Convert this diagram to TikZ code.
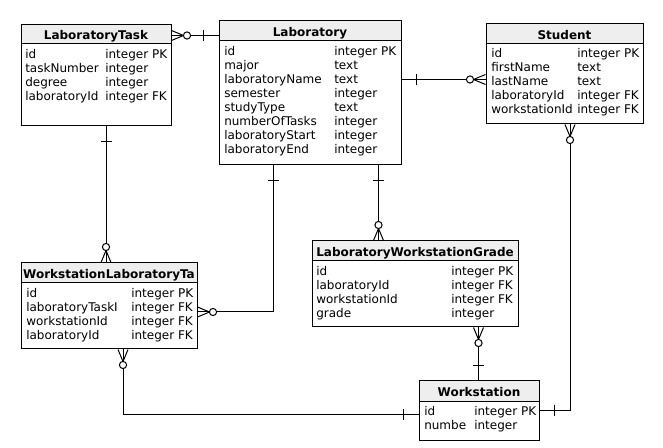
\documentclass[tikz,border=0pt]{standalone}
\usepackage{fontspec}
\setmainfont{DejaVu Sans}
\usetikzlibrary{fit,calc}
\definecolor{hdrgray}{HTML}{EEEEEE}
\tikzset{
  tbl/.style={draw, line width=0.75pt, inner sep=0pt, fill=white},
  hdr/.style={draw, fill=hdrgray, line width=0.75pt, inner sep=0pt},
  ttl/.style={font=\fontsize{9}{10.5}\selectfont\bfseries, inner sep=0pt, anchor=base},
  fld/.style={font=\fontsize{9}{10.5}\selectfont, inner sep=0pt, anchor=base west},
  conn/.style={line width=0.75pt},
  manyopt/.pic={
    \draw[line width=0.75pt] (0,-5) -- (12,0) -- (0,5);
    \draw[line width=0.75pt] (0,0) -- (12,0);
    \draw[line width=0.75pt, fill=white] (15.5,0) circle[radius=2.7pt];
  },
  onebar/.pic={
    \draw[line width=0.75pt] (15,-5.5) -- (15,5.5);
  }
}
\newcommand\tfields[5]{%
  \foreach \a/\b [count=\i] in {#5}{%
    \node[fld] (#1n\i) at (#2, {#4+14*(\i-1)}) {\a};
    \node[fld] (#1t\i) at (#3, {#4+14*(\i-1)}) {\b};
  }}
\begin{document}
\begin{tikzpicture}[x=0.75pt,y=-0.75pt]
\useasboundingbox (0,0) rectangle (663,448);

% ---- tables ----
% LaboratoryTask
\node[tbl, fit={(21,25)(171,126)}] (lt) {};
\node[hdr, fit={(21,25)(171,44)}] (lth) {};
\node[ttl] (ltt) at ($(lth.south)+(0,-5)$) {LaboratoryTask};
\tfields{lt}{25}{105}{58.5}{id/integer PK, taskNumber/integer, degree/integer, laboratoryId/integer FK}

% Laboratory
\node[tbl, fit={(219,21)(401,165)}] (lab) {};
\node[hdr, fit={(219,21)(401,41)}] (labh) {};
\node[ttl] (labt) at ($(labh.south)+(0,-5)$) {Laboratory};
\tfields{lab}{224}{334}{55.5}{id/integer PK, major/text, laboratoryName/text, semester/integer, studyType/text, numberOfTasks/integer, laboratoryStart/integer, laboratoryEnd/integer}

% Student
\node[tbl, fit={(486,24)(643,124)}] (stu) {};
\node[hdr, fit={(486,24)(643,44)}] (stuh) {};
\node[ttl] (stut) at ($(stuh.south)+(0,-5)$) {Student};
\tfields{stu}{491}{577}{58}{id/integer PK, firstName/text, lastName/text, laboratoryId/integer FK, workstationId/integer FK}

% WorkstationLaboratoryTask
\node[tbl, fit={(21,263)(197,349)}] (wlt) {};
\node[hdr, fit={(21,263)(197,283)}] (wlth) {};
\begin{scope}
  \clip (21,263) rectangle (197,283);
  \node[ttl] (wltt) at ($(wlth.south)+(0,-5)$) {WorkstationLaboratoryTa};
\end{scope}
\tfields{wlt}{26}{131}{297.5}{id/integer PK, laboratoryTaskI/integer FK, workstationId/integer FK, laboratoryId/integer FK}

% LaboratoryWorkstationGrade
\node[tbl, fit={(312,241)(518,327)}] (lwg) {};
\node[hdr, fit={(312,241)(518,261)}] (lwgh) {};
\node[ttl] (lwgt) at ($(lwgh.south)+(0,-5)$) {LaboratoryWorkstationGrade};
\tfields{lwg}{316}{451}{275.5}{id/integer PK, laboratoryId/integer FK, workstationId/integer FK, grade/integer}

% Workstation
\node[tbl, fit={(419,381)(539,440)}] (ws) {};
\node[hdr, fit={(419,381)(539,401)}] (wsh) {};
\node[ttl] (wst) at ($(wsh.south)+(0,-5)$) {Workstation};
\tfields{ws}{424}{474}{415.5}{id/integer PK, numbe/integer}

% ---- connectors ----
% LaboratoryTask -- Laboratory
\coordinate (c1a) at ($(lt.north east)+(0,11)$);
\coordinate (c1b) at ($(lab.north west)+(0,15)$);
\draw[conn] (c1a) -- (c1b);
\pic at (c1a) {manyopt};
\pic[rotate=180] at (c1b) {onebar};

% LaboratoryTask -- WorkstationLaboratoryTask
\coordinate (c2a) at ($(lt.south west)+(85.5,0)$);
\coordinate (c2b) at ($(wlt.north west)+(85.5,0)$);
\draw[conn] (c2a) -- (c2b);
\pic[rotate=-90] at (c2a) {onebar};
\pic[rotate=90] at (c2b) {manyopt};

% Laboratory -- WorkstationLaboratoryTask
\coordinate (c3a) at ($(lab.south west)+(55,0)$);
\coordinate (c3b) at ($(wlt.north east)+(0,49.5)$);
\draw[conn] (c3a) |- (c3b);
\pic[rotate=-90] at (c3a) {onebar};
\pic at (c3b) {manyopt};

% Laboratory -- LaboratoryWorkstationGrade
\coordinate (c4a) at ($(lab.south west)+(160,0)$);
\coordinate (c4b) at ($(lwg.north west)+(67,0)$);
\draw[conn] (c4a) -- (c4b);
\pic[rotate=-90] at (c4a) {onebar};
\pic[rotate=90] at (c4b) {manyopt};

% Laboratory -- Student
\coordinate (c5a) at ($(lab.north east)+(0,59)$);
\coordinate (c5b) at ($(stu.north west)+(0,56)$);
\draw[conn] (c5a) -- (c5b);
\pic at (c5a) {onebar};
\pic[rotate=180] at (c5b) {manyopt};

% Student -- Workstation
\coordinate (c6a) at ($(stu.south west)+(84.5,0)$);
\coordinate (c6b) at ($(ws.north east)+(0,29.5)$);
\draw[conn] (c6a) |- (c6b);
\pic[rotate=-90] at (c6a) {manyopt};
\pic at (c6b) {onebar};

% LaboratoryWorkstationGrade -- Workstation
\coordinate (c7a) at ($(lwg.south west)+(167,0)$);
\coordinate (c7b) at ($(ws.north west)+(60,0)$);
\draw[conn] (c7a) -- (c7b);
\pic[rotate=-90] at (c7a) {manyopt};
\pic[rotate=90] at (c7b) {onebar};

% WorkstationLaboratoryTask -- Workstation
\coordinate (c8a) at ($(wlt.south west)+(102.5,0)$);
\coordinate (c8b) at ($(ws.north west)+(0,34)$);
\draw[conn] (c8a) |- (c8b);
\pic[rotate=-90] at (c8a) {manyopt};
\pic[rotate=180] at (c8b) {onebar};
\end{tikzpicture}
\end{document}
